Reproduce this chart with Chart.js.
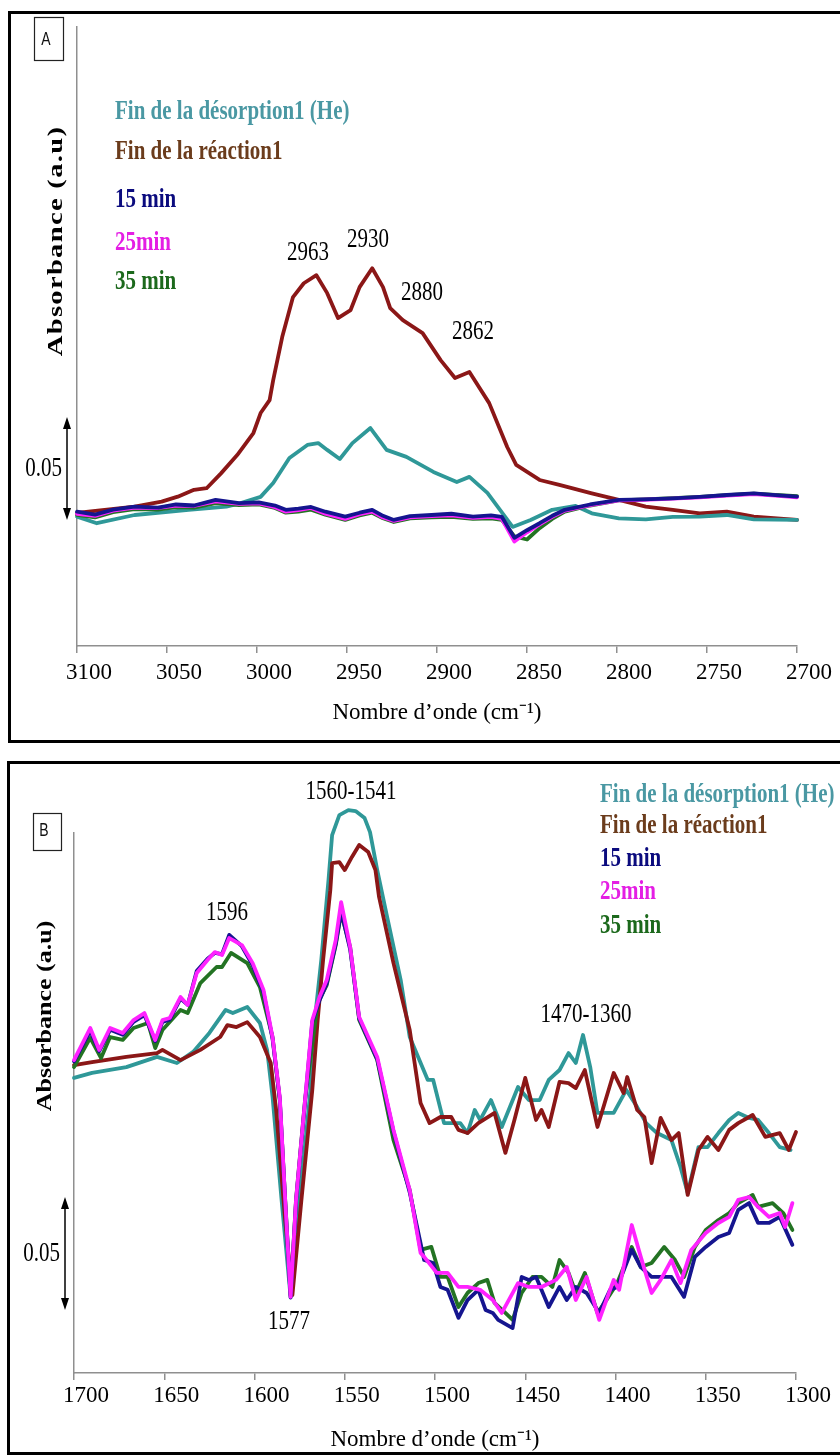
<!DOCTYPE html>
<html>
<head>
<meta charset="utf-8">
<title>Absorbance IR</title>
<script src="https://cdn.jsdelivr.net/npm/chart.js@4.4.1/dist/chart.umd.min.js"></script>
<style>
  html, body { margin: 0; padding: 0; background: #fff; width: 840px; height: 1456px; overflow: hidden; }
  .frame { position: absolute; border: 3px solid #000; box-sizing: border-box; }
  #frameA { left: 8px; top: 11px; width: 900px; height: 732px; }
  #frameB { left: 7px; top: 761px; width: 900px; height: 694px; }
  .wrap { position: absolute; left: 0; width: 840px; }
  #wrapA { top: 0; height: 745px; }
  #wrapB { top: 745px; height: 711px; }
</style>
</head>
<body>
<div class="frame" id="frameA"></div>
<div class="frame" id="frameB"></div>
<div class="wrap" id="wrapA"><canvas id="chartA" width="840" height="745"></canvas></div>
<div class="wrap" id="wrapB"><canvas id="chartB" width="840" height="711"></canvas></div>
<script>
// series names (same for both panels)
var seriesLabels = ['Fin de la désorption1 (He)', 'Fin de la réaction1', '15 min', '25min', '35 min'];

// ---- panel A : 3100 - 2700 cm-1 ----
var aRedWn = [3100, 3068, 3053, 3044, 3035, 3028, 3020, 3011, 3002, 2998, 2993, 2991, 2986, 2980, 2974, 2967, 2961, 2955, 2948, 2943, 2936, 2930, 2926, 2919, 2908, 2898, 2890, 2882, 2871, 2861, 2856, 2843, 2832, 2814, 2799, 2784, 2769, 2754, 2739, 2724, 2700];
var aRedAbs = [0.0034, 0.0065, 0.0089, 0.0113, 0.0146, 0.0154, 0.0226, 0.0315, 0.0422, 0.0519, 0.0582, 0.0679, 0.0888, 0.1082, 0.1149, 0.1188, 0.1101, 0.0980, 0.1019, 0.1130, 0.1222, 0.1130, 0.1028, 0.0970, 0.0907, 0.0776, 0.0689, 0.0718, 0.0567, 0.0354, 0.0267, 0.0194, 0.0170, 0.0129, 0.0097, 0.0065, 0.0049, 0.0032, 0.0040, 0.0016, 0.0];

var aTealWn = [3100, 3089, 3068, 3038, 3017, 3009, 2998, 2991, 2982, 2972, 2966, 2961, 2954, 2947, 2937, 2928, 2917, 2902, 2889, 2882, 2872, 2865, 2858, 2848, 2836, 2823, 2814, 2799, 2784, 2769, 2754, 2739, 2724, 2700];
var aTealAbs = [0.0016, -0.0016, 0.0024, 0.0049, 0.0065, 0.0082, 0.0112, 0.0179, 0.0301, 0.0364, 0.0373, 0.0340, 0.0296, 0.0373, 0.0446, 0.0340, 0.0306, 0.0233, 0.0184, 0.0209, 0.0131, 0.0049, -0.0034, 0.0, 0.0049, 0.0068, 0.0032, 0.0008, 0.0003, 0.0015, 0.0016, 0.0024, 0.0003, 0.0];

var aTimeWn = [3100, 3090, 3080, 3068, 3055, 3045, 3035, 3023, 3010, 2999, 2990, 2984, 2977, 2970, 2962, 2951, 2943, 2936, 2930, 2924, 2915, 2903, 2892, 2880, 2870, 2864, 2857, 2850, 2843, 2836, 2829, 2815, 2799, 2785, 2769, 2754, 2739, 2724, 2712, 2700];
var a15Abs = [0.0040, 0.0026, 0.0050, 0.0065, 0.0060, 0.0075, 0.0070, 0.0097, 0.0082, 0.0085, 0.0070, 0.0049, 0.0055, 0.0063, 0.0040, 0.0016, 0.0035, 0.0049, 0.0020, 0.0000, 0.0018, 0.0024, 0.0030, 0.0016, 0.0022, 0.0015, -0.0087, -0.0050, -0.0016, 0.0020, 0.0049, 0.0075, 0.0097, 0.0100, 0.0105, 0.0112, 0.0121, 0.0129, 0.0120, 0.0113];
var a25Abs = [0.0030, 0.0020, 0.0045, 0.0060, 0.0058, 0.0070, 0.0068, 0.0090, 0.0078, 0.0080, 0.0062, 0.0040, 0.0048, 0.0058, 0.0030, 0.0005, 0.0028, 0.0040, 0.0012, -0.0005, 0.0012, 0.0018, 0.0022, 0.0010, 0.0015, 0.0005, -0.0105, -0.0060, -0.0022, 0.0015, 0.0045, 0.0072, 0.0095, 0.0098, 0.0103, 0.0110, 0.0118, 0.0125, 0.0118, 0.0110];
var a35Abs = [0.0025, 0.0012, 0.0038, 0.0052, 0.0050, 0.0062, 0.0060, 0.0082, 0.0072, 0.0076, 0.0058, 0.0035, 0.0040, 0.0050, 0.0025, 0.0000, 0.0022, 0.0035, 0.0008, -0.0010, 0.0008, 0.0012, 0.0015, 0.0005, 0.0008, 0.0000, -0.0080, -0.0095, -0.0040, 0.0005, 0.0040, 0.0070, 0.0095, 0.0100, 0.0106, 0.0112, 0.0120, 0.0128, 0.0122, 0.0115];

var aPeakLabels = ['2963', '2930', '2880', '2862'];
var aTicks = [3100, 3050, 3000, 2950, 2900, 2850, 2800, 2750, 2700];

// ---- panel B : 1700 - 1300 cm-1 ----
var bTealWn = [1700, 1690, 1671, 1654, 1643, 1634, 1625, 1616, 1612, 1604, 1597, 1593, 1590, 1585, 1580, 1575, 1569, 1566, 1563, 1559, 1557, 1553, 1548, 1544, 1539, 1536, 1532, 1527, 1519, 1514, 1504, 1501, 1495, 1486, 1482, 1478, 1475, 1469, 1463, 1454, 1448, 1442, 1437, 1431, 1426, 1422, 1418, 1414, 1410, 1407, 1401, 1394, 1388, 1383, 1377, 1369, 1364, 1360, 1354, 1349, 1343, 1337, 1332, 1326, 1321, 1315, 1309, 1303];
var bTealAbs = [0.1027, 0.1049, 0.1075, 0.1120, 0.1093, 0.1142, 0.1226, 0.1328, 0.1314, 0.1341, 0.1270, 0.1150, 0.0943, 0.0487, 0.0058, 0.0487, 0.0972, 0.1328, 0.1549, 0.1903, 0.2102, 0.2190, 0.2212, 0.2208, 0.2177, 0.2115, 0.1947, 0.1757, 0.1460, 0.1208, 0.1018, 0.1018, 0.0827, 0.0827, 0.0783, 0.0885, 0.0841, 0.0929, 0.0810, 0.0987, 0.0929, 0.0929, 0.1018, 0.1062, 0.1137, 0.1093, 0.1217, 0.1075, 0.0872, 0.0872, 0.0872, 0.0974, 0.0898, 0.0827, 0.0783, 0.0752, 0.0633, 0.0518, 0.0721, 0.0721, 0.0783, 0.0841, 0.0872, 0.0850, 0.0841, 0.0783, 0.0721, 0.0708];

var bRedWn = [1700, 1690, 1671, 1654, 1651, 1641, 1630, 1619, 1615, 1610, 1604, 1597, 1591, 1588, 1583, 1579, 1574, 1568, 1565, 1562, 1558, 1557, 1553, 1550, 1546, 1542, 1537, 1533, 1531, 1523, 1514, 1508, 1503, 1497, 1491, 1487, 1482, 1476, 1467, 1461, 1456, 1450, 1444, 1441, 1437, 1431, 1426, 1422, 1417, 1410, 1401, 1395.5, 1393.5, 1388, 1384, 1380, 1375, 1369, 1365, 1360, 1354, 1349, 1343, 1337, 1332, 1324, 1317, 1309, 1304, 1300];
var bRedAbs = [0.1084, 0.1097, 0.1120, 0.1137, 0.1151, 0.1106, 0.1151, 0.1208, 0.1261, 0.1252, 0.1274, 0.1208, 0.1093, 0.0885, 0.0398, 0.0066, 0.0487, 0.0972, 0.1283, 0.1549, 0.1858, 0.1978, 0.1982, 0.1947, 0.2005, 0.2058, 0.2027, 0.1947, 0.1828, 0.1535, 0.1239, 0.0916, 0.0827, 0.0854, 0.0854, 0.0797, 0.0783, 0.0827, 0.0872, 0.0695, 0.0841, 0.1027, 0.0841, 0.0885, 0.0810, 0.1009, 0.1004, 0.0982, 0.1062, 0.0810, 0.1049, 0.0960, 0.1031, 0.0885, 0.0854, 0.0650, 0.0850, 0.0752, 0.0783, 0.0509, 0.0708, 0.0766, 0.0708, 0.0797, 0.0827, 0.0863, 0.0766, 0.0783, 0.0708, 0.0788];

var b25Wn = [1700, 1691, 1686, 1680, 1673, 1667, 1661, 1655, 1651, 1647, 1641, 1637, 1632, 1626, 1622, 1618, 1614, 1607, 1601, 1595, 1590, 1586, 1583, 1580, 1577, 1572, 1568, 1564, 1560, 1555, 1552, 1547, 1542, 1532, 1523, 1514, 1508, 1506, 1499, 1493, 1487, 1482, 1475, 1468, 1463, 1454, 1448, 1441, 1433, 1427, 1422, 1416, 1409, 1401, 1398, 1391, 1386, 1380, 1375, 1369, 1364, 1358, 1350, 1343, 1337, 1332, 1326, 1321, 1315, 1309, 1306, 1302];
var b25Abs = [0.1106, 0.1248, 0.1151, 0.1248, 0.1226, 0.1283, 0.1314, 0.1195, 0.1283, 0.1292, 0.1385, 0.1350, 0.1491, 0.1549, 0.1584, 0.1571, 0.1646, 0.1615, 0.1535, 0.1416, 0.1208, 0.0943, 0.0487, 0.0058, 0.0487, 0.0929, 0.1283, 0.1385, 0.1460, 0.1637, 0.1805, 0.1606, 0.1297, 0.1120, 0.0797, 0.0531, 0.0252, 0.0235, 0.0164, 0.0164, 0.0102, 0.0102, 0.0089, 0.0044, -0.0013, 0.0119, 0.0102, 0.0102, 0.0133, 0.0190, 0.0044, 0.0146, -0.0044, 0.0133, 0.0089, 0.0376, 0.0235, 0.0075, 0.0133, 0.0221, 0.0119, 0.0266, 0.0341, 0.0385, 0.0412, 0.0487, 0.0500, 0.0456, 0.0412, 0.0429, 0.0367, 0.0473];

var b15Wn = [1700, 1691, 1686, 1680, 1673, 1667, 1661, 1655, 1651, 1647, 1641, 1637, 1632, 1626, 1622, 1618, 1614, 1607, 1601, 1595, 1590, 1586, 1583, 1580, 1577, 1572, 1568, 1564, 1560, 1555, 1552, 1547, 1542, 1532, 1523, 1514, 1506, 1501, 1497, 1493, 1487, 1482, 1476, 1472, 1468, 1465, 1457, 1452, 1448, 1444, 1437, 1431, 1427, 1422, 1416, 1409, 1403, 1399, 1391, 1386, 1380, 1375, 1369, 1362, 1356, 1350, 1343, 1337, 1332, 1326, 1321, 1315, 1309, 1302];
var b15Abs = [0.1100, 0.1235, 0.1145, 0.1240, 0.1218, 0.1275, 0.1305, 0.1190, 0.1275, 0.1285, 0.1378, 0.1350, 0.1500, 0.1555, 0.1580, 0.1575, 0.1660, 0.1610, 0.1525, 0.1405, 0.1200, 0.0935, 0.0480, 0.0055, 0.0480, 0.0920, 0.1275, 0.1370, 0.1445, 0.1620, 0.1765, 0.1595, 0.1290, 0.1110, 0.0790, 0.0520, 0.0221, 0.0208, 0.0102, 0.0089, -0.0035, 0.0044, 0.0089, 0.0000, -0.0013, -0.0044, -0.0080, 0.0146, 0.0133, 0.0146, 0.0013, 0.0102, 0.0044, 0.0102, 0.0075, -0.0013, 0.0089, 0.0102, 0.0266, 0.0190, 0.0146, 0.0146, 0.0146, 0.0058, 0.0235, 0.0279, 0.0323, 0.0341, 0.0443, 0.0473, 0.0385, 0.0385, 0.0412, 0.0288];

var b35Wn = [1700, 1691, 1685, 1680, 1673, 1667, 1659, 1655, 1651, 1641, 1637, 1630, 1621, 1618, 1613, 1604, 1597, 1590, 1586, 1583, 1580, 1577, 1572, 1565, 1560, 1555, 1552, 1547, 1542, 1532, 1523, 1514, 1508, 1502, 1497, 1493, 1487, 1482, 1476, 1471, 1467, 1461, 1457, 1452, 1446, 1441, 1435, 1431, 1426, 1422, 1417, 1410, 1405, 1399, 1391, 1386, 1380, 1373, 1367, 1362, 1356, 1350, 1343, 1337, 1332, 1324, 1321, 1313, 1307, 1302];
var b35Abs = [0.1075, 0.1204, 0.1115, 0.1208, 0.1195, 0.1248, 0.1270, 0.1159, 0.1239, 0.1328, 0.1314, 0.1447, 0.1518, 0.1518, 0.1580, 0.1535, 0.1429, 0.1208, 0.0929, 0.0487, 0.0066, 0.0487, 0.0929, 0.1358, 0.1438, 0.1615, 0.1757, 0.1606, 0.1283, 0.1106, 0.0752, 0.0531, 0.0266, 0.0279, 0.0146, 0.0146, 0.0013, 0.0075, 0.0119, 0.0133, 0.0031, -0.0013, -0.0044, 0.0075, 0.0146, 0.0146, 0.0102, 0.0221, 0.0164, 0.0075, 0.0164, -0.0013, 0.0044, 0.0119, 0.0279, 0.0190, 0.0208, 0.0279, 0.0221, 0.0146, 0.0279, 0.0354, 0.0398, 0.0429, 0.0473, 0.0509, 0.0456, 0.0473, 0.0429, 0.0354];

var bPeakLabels = ['1560-1541', '1596', '1470-1360', '1577'];
var bTicks = [1700, 1650, 1600, 1550, 1500, 1450, 1400, 1350, 1300];

// colours
var lineColors = ['#2f9898', '#8b1717', '#15158f', '#ff22ff', '#237323'];
var textColors = ['#4a98a3', '#6b3c1c', '#0b0b7e', '#e41ee4', '#1c691c'];

var SERIF = 'Liberation Serif';
Chart.defaults.font.family = SERIF;
Chart.defaults.color = '#000';

function pairs(wn, abs) {
  return wn.map(function (w, i) { return { x: w, y: abs[i] }; });
}

function lineSet(label, wn, abs, color) {
  return {
    label: label,
    data: pairs(wn, abs),
    borderColor: color,
    borderWidth: 3.8,
    pointRadius: 0,
    tension: 0,
    fill: false,
    clip: false,
    borderJoinStyle: 'round',
    borderCapStyle: 'round'
  };
}

// text squeezed like the original figure (taller than wide)
function tallText(ctx, text, x, y, font, color, align) {
  ctx.save();
  ctx.font = font;
  ctx.fillStyle = color;
  ctx.textAlign = align || 'left';
  ctx.textBaseline = 'middle';
  ctx.translate(x, y);
  ctx.scale(1, 1.3);
  ctx.fillText(text, 0, 0);
  ctx.restore();
}

function sideTitle(ctx, text, x, y, font, spacing) {
  ctx.save();
  ctx.font = font;
  ctx.fillStyle = '#000';
  ctx.textAlign = 'center';
  ctx.textBaseline = 'middle';
  if ('letterSpacing' in ctx) ctx.letterSpacing = spacing + 'px';
  ctx.translate(x, y);
  ctx.rotate(-Math.PI / 2);
  ctx.scale(1.3, 1);
  ctx.fillText(text, 0, 0);
  ctx.restore();
}

function panelTag(ctx, letter, x, y, w, h, cx, cy) {
  ctx.save();
  ctx.strokeStyle = '#222';
  ctx.lineWidth = 1.2;
  ctx.strokeRect(x + 0.5, y + 0.5, w, h);
  ctx.restore();
  tallText(ctx, letter, cx, cy, '14px "Liberation Sans"', '#111', 'center');
}

// 0.05 absorbance scale bar, drawn through the y scale
function scaleBar(chart, x) {
  var ctx = chart.ctx, ys = chart.scales.y;
  var yb = ys.getPixelForValue(0), yt = ys.getPixelForValue(0.05);
  ctx.save();
  ctx.strokeStyle = '#000';
  ctx.fillStyle = '#000';
  ctx.lineWidth = 1.5;
  ctx.beginPath();
  ctx.moveTo(x, yt + 8);
  ctx.lineTo(x, yb - 8);
  ctx.stroke();
  ctx.beginPath();
  ctx.moveTo(x, yt); ctx.lineTo(x - 4, yt + 12); ctx.lineTo(x + 4, yt + 12); ctx.closePath(); ctx.fill();
  ctx.beginPath();
  ctx.moveTo(x, yb); ctx.lineTo(x - 4, yb - 12); ctx.lineTo(x + 4, yb - 12); ctx.closePath(); ctx.fill();
  ctx.restore();
  tallText(ctx, '0.05', x - 5, (yt + yb) / 2, '21px "Liberation Serif"', '#000', 'right');
}

function axisOptions(ticks, pad, yMin, yMax) {
  return {
    x: {
      type: 'linear',
      reverse: true,
      min: Math.min.apply(null, ticks),
      max: Math.max.apply(null, ticks),
      afterBuildTicks: function (s) { s.ticks = ticks.map(function (v) { return { value: v }; }); },
      ticks: {
        font: { family: SERIF, size: 23 },
        color: '#000',
        padding: pad,
        labelOffset: 12,
        maxRotation: 0,
        autoSkip: false,
        callback: function (v) { return String(v); }
      },
      grid: { drawOnChartArea: false, drawTicks: true, tickLength: 7, color: '#8f8f8f', lineWidth: 1.5 },
      border: { display: true, color: '#8f8f8f', width: 1.5 },
      title: { display: true, text: 'Nombre d\u2019onde (cm\u207B\u00B9)', font: { family: SERIF, size: 23 }, color: '#000', padding: 0 },
      afterFit: function (s) { s.height = 81; s.paddingLeft = 0; s.paddingRight = 0; }
    },
    y: {
      type: 'linear',
      min: yMin,
      max: yMax,
      ticks: { display: false },
      grid: { display: false, drawTicks: false },
      border: { display: true, color: '#8f8f8f', width: 1.5 },
      afterFit: function (s) { s.width = 0; s.paddingTop = 0; s.paddingBottom = 0; }
    }
  };
}

// ---------- chart A ----------
var annotA = {
  id: 'annotA',
  afterDraw: function (chart) {
    var ctx = chart.ctx, xs = chart.scales.x, ys = chart.scales.y;
    panelTag(ctx, 'A', 34, 17, 29, 43, 46, 40);
    var legendY = [112, 152, 200, 243, 282];
    seriesLabels.forEach(function (t, i) {
      tallText(ctx, t, 115, legendY[i], 'bold 21px "Liberation Serif"', textColors[i], 'left');
    });
    // peak label anchors in (cm-1, absorbance)
    var anchors = [[2971.7, 0.1296], [2938.3, 0.1359], [2908.3, 0.1102], [2880.0, 0.0913]];
    aPeakLabels.forEach(function (t, i) {
      tallText(ctx, t, xs.getPixelForValue(anchors[i][0]), ys.getPixelForValue(anchors[i][1]),
        '21px "Liberation Serif"', '#000', 'center');
    });
    sideTitle(ctx, 'Absorbance (a.u)', 56, 241, 'bold 22px "Liberation Serif"', 1);
    scaleBar(chart, 67);
  }
};

new Chart(document.getElementById('chartA'), {
  type: 'line',
  data: {
    datasets: [
      lineSet(seriesLabels[2], aTimeWn, a15Abs, lineColors[2]),
      lineSet(seriesLabels[3], aTimeWn, a25Abs, lineColors[3]),
      lineSet(seriesLabels[4], aTimeWn, a35Abs, lineColors[4]),
      lineSet(seriesLabels[0], aTealWn, aTealAbs, lineColors[0]),
      lineSet(seriesLabels[1], aRedWn, aRedAbs, lineColors[1])
    ]
  },
  options: {
    responsive: false,
    animation: false,
    events: [],
    layout: { padding: { left: 77, top: 27, right: 43, bottom: 18 } },
    plugins: { legend: { display: false }, tooltip: { enabled: false } },
    scales: axisOptions(aTicks, 6, -0.0612, 0.2393)
  },
  plugins: [annotA]
});

// ---------- chart B ----------
var annotB = {
  id: 'annotB',
  afterDraw: function (chart) {
    var ctx = chart.ctx, xs = chart.scales.x, ys = chart.scales.y;
    panelTag(ctx, 'B', 33, 68, 28, 37, 44, 86);
    var legendY = [50, 81, 114, 147, 181];
    seriesLabels.forEach(function (t, i) {
      tallText(ctx, t, 600, legendY[i], 'bold 21px "Liberation Serif"', textColors[i], 'left');
    });
    var anchors = [[1546.5, 0.2292], [1615.2, 0.1757], [1416.3, 0.1305], [1580.9, -0.0053]];
    bPeakLabels.forEach(function (t, i) {
      tallText(ctx, t, xs.getPixelForValue(anchors[i][0]), ys.getPixelForValue(anchors[i][1]),
        '21px "Liberation Serif"', '#000', 'center');
    });
    sideTitle(ctx, 'Absorbance (a.u)', 46, 271, 'bold 20px "Liberation Serif"', 0);
    scaleBar(chart, 65);
  }
};

new Chart(document.getElementById('chartB'), {
  type: 'line',
  data: {
    datasets: [
      lineSet(seriesLabels[3], b25Wn, b25Abs, lineColors[3]),
      lineSet(seriesLabels[2], b15Wn, b15Abs, lineColors[2]),
      lineSet(seriesLabels[4], b35Wn, b35Abs, lineColors[4]),
      lineSet(seriesLabels[1], bRedWn, bRedAbs, lineColors[1]),
      lineSet(seriesLabels[0], bTealWn, bTealAbs, lineColors[0])
    ]
  },
  options: {
    responsive: false,
    animation: false,
    events: [],
    layout: { padding: { left: 74, top: 88, right: 44, bottom: 2 } },
    plugins: { legend: { display: false }, tooltip: { enabled: false } },
    scales: axisOptions(bTicks, 2, -0.0279, 0.2111)
  },
  plugins: [annotB]
});
</script>
</body>
</html>
